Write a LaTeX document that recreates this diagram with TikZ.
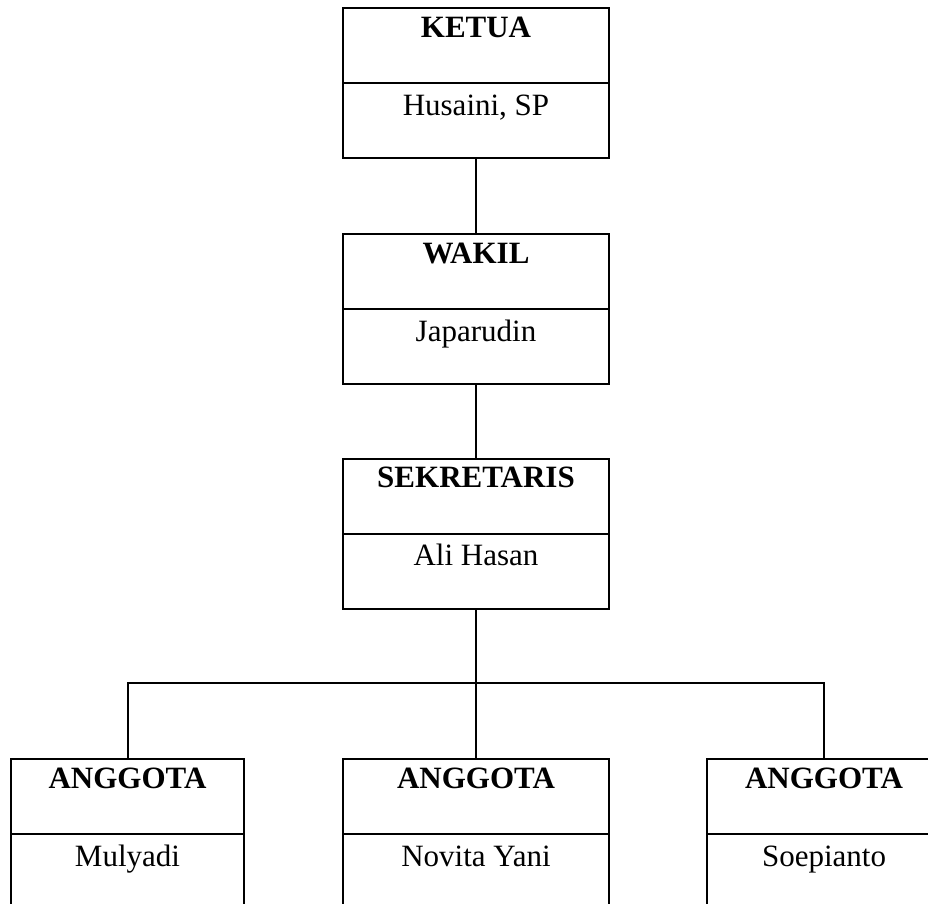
\documentclass[tikz,border=0pt]{standalone}
\usepackage{fontspec}
\setmainfont{Liberation Serif}
\usetikzlibrary{calc}

\begin{document}
\begin{tikzpicture}[x=1pt, y=-1pt, line width=2pt,
    kotak/.style={draw, rectangle, minimum height=150pt, inner sep=0pt},
    jabatan/.style={anchor=base, font=\fontsize{31}{37}\selectfont\bfseries},
    nama/.style={anchor=base, font=\fontsize{31}{37}\selectfont}]
  \useasboundingbox (0,0) rectangle (928,903);
  \clip (0,0) rectangle (928,903);

  % Ketua
  \node[kotak, minimum width=266pt] (ketua) at (476, 83) {};
  \draw (ketua.west) -- (ketua.east);
  \node[jabatan] (ketuaJ) at ($(ketua.north)+(0,30)$) {KETUA};
  \node[nama] (ketuaN) at ($(ketua.center)+(0,32)$) {Husaini, SP};

  % Wakil
  \node[kotak, minimum width=266pt] (wakil) at (476, 309) {};
  \draw (wakil.west) -- (wakil.east);
  \node[jabatan] (wakilJ) at ($(wakil.north)+(0,30)$) {WAKIL};
  \node[nama] (wakilN) at ($(wakil.center)+(0,32)$) {Japarudin};

  % Sekretaris
  \node[kotak, minimum width=266pt] (sekretaris) at (476, 533.5) {};
  \draw (sekretaris.west) -- (sekretaris.east);
  \node[jabatan] (sekretarisJ) at ($(sekretaris.north)+(0,30)$) {SEKRETARIS};
  \node[nama] (sekretarisN) at ($(sekretaris.center)+(0,32)$) {Ali Hasan};

  % Anggota
  \node[kotak, minimum width=233pt] (anggotaA) at (127.5, 834) {};
  \draw (anggotaA.west) -- (anggotaA.east);
  \node[jabatan] (anggotaAJ) at ($(anggotaA.north)+(0,30)$) {ANGGOTA};
  \node[nama] (anggotaAN) at ($(anggotaA.center)+(0,32)$) {Mulyadi};

  \node[kotak, minimum width=266pt] (anggotaB) at (476, 834) {};
  \draw (anggotaB.west) -- (anggotaB.east);
  \node[jabatan] (anggotaBJ) at ($(anggotaB.north)+(0,30)$) {ANGGOTA};
  \node[nama] (anggotaBN) at ($(anggotaB.center)+(0,32)$) {Novita Yani};

  \node[kotak, minimum width=234pt] (anggotaC) at (824, 834) {};
  \draw (anggotaC.west) -- (anggotaC.east);
  \node[jabatan] (anggotaCJ) at ($(anggotaC.north)+(0,30)$) {ANGGOTA};
  \node[nama] (anggotaCN) at ($(anggotaC.center)+(0,32)$) {Soepianto};

  % garis
  \coordinate (cabang) at (476, 683);
  \draw (ketua.south) -- (wakil.north);
  \draw (wakil.south) -- (sekretaris.north);
  \draw (sekretaris.south) -- (cabang);
  \draw (anggotaA.north) |- (cabang) -| (anggotaC.north);
  \draw (cabang) -- (anggotaB.north);
\end{tikzpicture}
\end{document}
